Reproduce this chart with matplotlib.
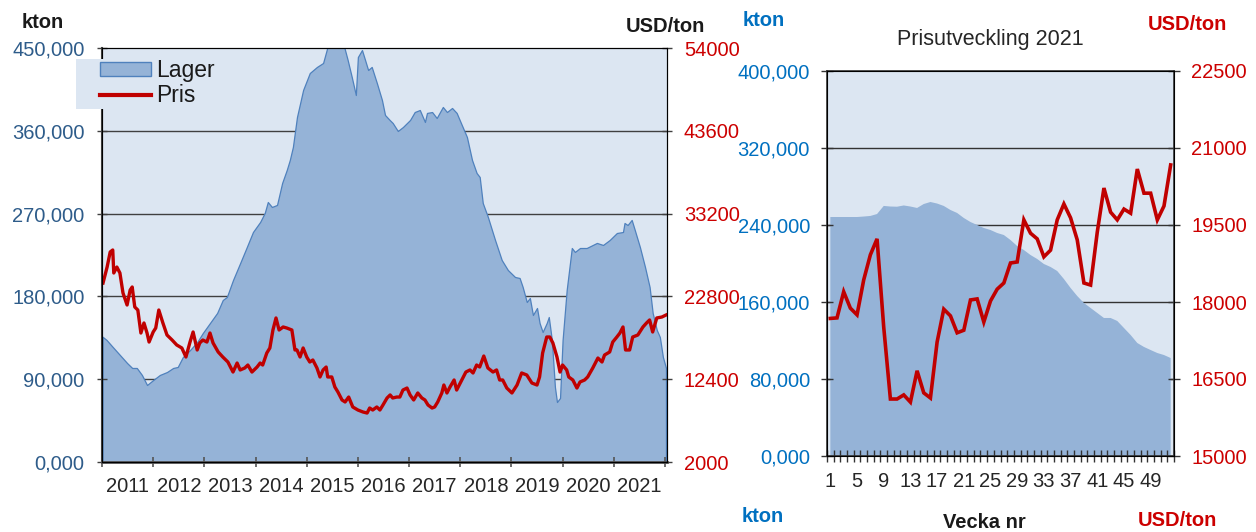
import matplotlib
matplotlib.use("Agg")
import matplotlib.pyplot as plt
from matplotlib.patches import Rectangle, Patch
from matplotlib.lines import Line2D

plt.rcParams['font.family'] = ['Liberation Sans', 'DejaVu Sans']

# ---- vänster diagram: lager och pris 2011-2021 (tid i decimalår)
lager_tid = [2011.01, 2011.09, 2011.21, 2011.35, 2011.49, 2011.59, 2011.68, 2011.78, 2011.88, 2012.00,
             2012.13, 2012.27, 2012.39, 2012.48, 2012.58, 2012.72, 2012.86, 2012.97, 2013.11, 2013.25,
             2013.36, 2013.44, 2013.56, 2013.70, 2013.83, 2013.95, 2014.09, 2014.18, 2014.24, 2014.32,
             2014.42, 2014.52, 2014.61, 2014.67, 2014.73, 2014.81, 2014.93, 2015.06, 2015.20, 2015.32,
             2015.39, 2015.45, 2015.57, 2015.70, 2015.80, 2015.88, 2015.96, 2016.00, 2016.08, 2016.14,
             2016.20, 2016.27, 2016.37, 2016.47, 2016.53, 2016.62, 2016.68, 2016.78, 2016.88, 2017.02,
             2017.11, 2017.21, 2017.31, 2017.35, 2017.45, 2017.54, 2017.66, 2017.74, 2017.84, 2017.93,
             2018.03, 2018.13, 2018.23, 2018.32, 2018.38, 2018.44, 2018.54, 2018.68, 2018.81, 2018.93,
             2019.07, 2019.16, 2019.22, 2019.30, 2019.36, 2019.42, 2019.50, 2019.55, 2019.61, 2019.69,
             2019.73, 2019.79, 2019.85, 2019.89, 2019.95, 2020.00, 2020.08, 2020.18, 2020.24, 2020.34,
             2020.47, 2020.67, 2020.79, 2020.92, 2021.06, 2021.18, 2021.21, 2021.27, 2021.35, 2021.41,
             2021.51, 2021.61, 2021.70, 2021.76, 2021.84, 2021.90, 2021.96, 2022.02]
lager = [136200, 132600, 125000, 116300, 107600, 102200, 102200, 94600, 83700, 89100,
         94600, 97800, 102200, 103300, 114100, 121700, 130400, 140200, 151100, 162000,
         176100, 179400, 197800, 216300, 233700, 250000, 260900, 270700, 282600, 277200,
         279400, 303300, 317400, 328300, 342400, 375000, 404400, 422800, 429400, 433700,
         447800, 462000, 468000, 458000, 437000, 418500, 398900, 440200, 447800, 437000,
         426100, 429400, 412000, 393500, 377200, 371800, 368500, 359800, 364100, 371800,
         380400, 382600, 369600, 379400, 380400, 373900, 385900, 380400, 384800, 379400,
         366300, 353300, 328300, 314100, 309800, 281500, 266300, 241300, 219600, 208700,
         201100, 200000, 190200, 173900, 178300, 159800, 167400, 151100, 141300, 151100,
         157600, 132600, 81500, 65200, 69600, 132600, 187000, 232600, 228300, 232600,
         232600, 238100, 235900, 241300, 248900, 250000, 259800, 257600, 263100, 252200,
         233700, 212000, 190200, 162000, 143500, 135900, 114100, 102200]

pris_tid = [2011.02, 2011.10, 2011.16, 2011.21, 2011.23, 2011.29, 2011.35, 2011.41, 2011.49, 2011.55,
            2011.59, 2011.64, 2011.70, 2011.76, 2011.82, 2011.88, 2011.92, 2012.00, 2012.05, 2012.11,
            2012.19, 2012.27, 2012.37, 2012.46, 2012.56, 2012.64, 2012.72, 2012.78, 2012.86, 2012.91,
            2012.97, 2013.05, 2013.11, 2013.17, 2013.27, 2013.36, 2013.46, 2013.56, 2013.64, 2013.70,
            2013.79, 2013.85, 2013.93, 2014.03, 2014.09, 2014.14, 2014.22, 2014.28, 2014.34, 2014.40,
            2014.46, 2014.54, 2014.61, 2014.71, 2014.77, 2014.81, 2014.87, 2014.93, 2015.00, 2015.06,
            2015.12, 2015.20, 2015.26, 2015.32, 2015.38, 2015.41, 2015.49, 2015.55, 2015.61, 2015.69,
            2015.75, 2015.82, 2015.90, 2016.00, 2016.10, 2016.18, 2016.23, 2016.29, 2016.37, 2016.43,
            2016.49, 2016.57, 2016.63, 2016.68, 2016.76, 2016.82, 2016.88, 2016.96, 2017.02, 2017.09,
            2017.17, 2017.25, 2017.31, 2017.37, 2017.45, 2017.50, 2017.56, 2017.64, 2017.68, 2017.74,
            2017.80, 2017.88, 2017.93, 2018.03, 2018.11, 2018.19, 2018.25, 2018.32, 2018.38, 2018.46,
            2018.54, 2018.64, 2018.71, 2018.77, 2018.83, 2018.91, 2019.01, 2019.11, 2019.20, 2019.30,
            2019.40, 2019.50, 2019.55, 2019.61, 2019.69, 2019.75, 2019.81, 2019.89, 2019.95, 2020.00,
            2020.08, 2020.12, 2020.20, 2020.28, 2020.34, 2020.43, 2020.49, 2020.59, 2020.69, 2020.77,
            2020.82, 2020.92, 2020.98, 2021.06, 2021.12, 2021.18, 2021.23, 2021.31, 2021.37, 2021.47,
            2021.57, 2021.64, 2021.70, 2021.76, 2021.84, 2021.94, 2022.02]
pris = [24480, 26490, 28380, 28630, 25740, 26490, 25740, 23230, 21720, 23600,
        23980, 21470, 21090, 18200, 19460, 18200, 17070, 18330, 18830, 21090,
        19460, 17950, 17320, 16700, 16320, 15190, 17070, 18330, 16070, 16950,
        17320, 17070, 18200, 16950, 15820, 15190, 14560, 13300, 14430, 13560,
        13810, 14180, 13300, 13930, 14430, 14180, 15690, 16320, 18580, 20090,
        18580, 18960, 18830, 18580, 16070, 16070, 15190, 16320, 15190, 14560,
        14810, 13810, 12680, 13560, 13930, 12680, 12680, 11420, 10790, 9790,
        9540, 10160, 8910, 8530, 8280, 8150, 8780, 8530, 8910, 8530,
        9160, 10040, 10420, 10040, 10160, 10160, 11040, 11290, 10420, 9790,
        10670, 10040, 9790, 9160, 8780, 8910, 9540, 10670, 11670, 10670,
        11420, 12300, 11040, 12300, 13300, 13560, 13180, 14180, 13930, 15310,
        13810, 13300, 13560, 12300, 12300, 11290, 10670, 11670, 13180, 12930,
        11920, 11670, 12680, 15690, 17700, 17700, 16950, 15190, 13300, 14180,
        13560, 12680, 12300, 11290, 12050, 12300, 12680, 13810, 15060, 14560,
        15440, 15820, 17070, 17700, 18200, 18960, 16070, 16070, 17700, 17950,
        18960, 19460, 19840, 18330, 20090, 20210, 20460]

ar = list(range(2011, 2022))
kton_steg = [0, 90000, 180000, 270000, 360000, 450000]
kton_text = ["0,000", "90,000", "180,000", "270,000", "360,000", "450,000"]
usd_steg = [2000, 12400, 22800, 33200, 43600, 54000]
usd_text = ["2000", "12400", "22800", "33200", "43600", "54000"]

# ---- höger diagram: veckovis 2021
veckor = list(range(1, 53))
lager_2021 = [248300, 248300, 248300, 248300, 248300, 248800, 249400, 251400, 259800, 259200,
              259000, 260300, 259200, 257700, 261800, 263900, 262300, 259800, 255600, 252500,
              247300, 243100, 240000, 236900, 234800, 231700, 229600, 224400, 218200, 214000,
              208800, 204700, 199500, 196400, 192200, 183900, 174600, 166200, 159000, 153800,
              148600, 143400, 143400, 140300, 133000, 125700, 117400, 113300, 110100, 107000,
              104900, 101800]
pris_2021 = [17680, 17690, 18200, 17880, 17750, 18430, 18920, 19230, 17510, 16110,
             16110, 16190, 16050, 16660, 16230, 16130, 17220, 17860, 17730, 17400,
             17450, 18040, 18060, 17610, 18020, 18250, 18370, 18760, 18780, 19600,
             19340, 19230, 18880, 19010, 19600, 19910, 19640, 19210, 18370, 18330,
             19360, 20220, 19750, 19600, 19810, 19730, 20590, 20120, 20120, 19600,
             19870, 20670]
vecka_text = [str(v) for v in range(1, 52, 4)]
kton2_steg = [0, 80000, 160000, 240000, 320000, 400000]
kton2_text = ["0,000", "80,000", "160,000", "240,000", "320,000", "400,000"]
usd2_steg = [15000, 16500, 18000, 19500, 21000, 22500]
usd2_text = ["15000", "16500", "18000", "19500", "21000", "22500"]

BG = '#DCE6F2'
FYLL = '#95B3D7'
KANT = '#4F81BD'
ROD = '#C00000'
ROD_TEXT = '#CC0000'
BLA_TEXT = '#2E5C8A'
BLA2_TEXT = '#0070C0'
FS = 14.5

W, H = 1256, 532


def px(x, y):
    return x / W, 1 - y / H


fig = plt.figure(figsize=(W / 100, H / 100), dpi=100)

# ---------------- vänster
ax = fig.add_axes([102 / W, 70 / H, 565 / W, 414 / H])
ax.set_facecolor(BG)
for v in kton_steg[1:-1]:
    ax.axhline(v, color='#404040', lw=1, zorder=0.5)
ax.fill_between(lager_tid, lager, 0, facecolor=FYLL, edgecolor=KANT, lw=0.9, zorder=1)
ax.set_xlim(2011.0, 2022.04)
ax.set_ylim(0, 450000)
ax.set_yticks(kton_steg)
ax.set_yticklabels(kton_text)
ax.set_xticks(ar + [2022])
ax.set_xticklabels([])
ax.set_xticks([a + 0.5 for a in ar], minor=True)
ax.set_xticklabels([str(a) for a in ar], minor=True)
ax.tick_params(axis='y', direction='inout', length=7.2, width=1, color='#404040',
               labelcolor=BLA_TEXT, labelsize=FS, pad=9)
ax.tick_params(axis='x', which='major', direction='inout', length=7.2, width=1.2, color='#555555')
ax.tick_params(axis='x', which='minor', length=0, labelsize=FS, labelcolor='#262626', pad=10.5)
ax.spines['left'].set_color('#404040')
ax.spines['left'].set_linewidth(1.5)
ax.spines['bottom'].set_color('#555555')
ax.spines['bottom'].set_linewidth(2)
ax.spines['top'].set_color('#1a1a1a')
ax.spines['right'].set_color('#1a1a1a')

ax2 = ax.twinx()
ax2.plot(pris_tid, pris, color=ROD, lw=2.4, solid_joinstyle='round')
ax2.set_ylim(2000, 54000)
ax2.set_yticks(usd_steg)
ax2.set_yticklabels(usd_text)
ax2.tick_params(axis='y', direction='inout', length=7.2, width=1, color='#404040',
                labelcolor=ROD_TEXT, labelsize=FS, pad=8.5)
ax2.set_xlim(2011.0, 2022.04)

fig.text(*px(43, 22), 'kton', fontsize=FS, fontweight='bold', color='#1a1a1a',
         ha='center', va='center')
fig.text(*px(665, 26), 'USD/ton', fontsize=FS, fontweight='bold', color='#1a1a1a',
         ha='center', va='center')

# legendruta ovanpå vänsterkanten
x0, y0 = px(76, 109)
fig.patches.append(Rectangle((x0, y0), 150 / W, 50 / H, transform=fig.transFigure,
                             facecolor=BG, edgecolor='none', zorder=3))
handles = [Patch(facecolor=FYLL, edgecolor=KANT, lw=1),
           Line2D([], [], color=ROD, lw=3)]
leg = fig.legend(handles, ['Lager', 'Pris'], loc='upper left', bbox_to_anchor=px(98, 57),
                 frameon=False, fontsize=16.5, handlelength=2.2, handleheight=0.55,
                 handletextpad=0.25, labelspacing=0.08, borderaxespad=0, borderpad=0.1)
leg.set_zorder(4)
for t in leg.get_texts():
    t.set_color('#1a1a1a')

# ---------------- höger
bx = fig.add_axes([827 / W, 76 / H, 347 / W, 385 / H])
bx.set_facecolor(BG)
for v in kton2_steg[1:-1]:
    bx.axhline(v, color='#333333', lw=1, zorder=0.5)
bx.fill_between(veckor, lager_2021, 0, facecolor=FYLL, edgecolor='none', zorder=1)
bx.set_xlim(0.5, 52.5)
bx.set_ylim(0, 400000)
bx.set_yticks(kton2_steg)
bx.set_yticklabels(kton2_text)
bx.set_xticks([v - 0.5 for v in veckor] + [52.5])
bx.set_xticklabels([])
bx.set_xticks(list(range(1, 52, 4)), minor=True)
bx.set_xticklabels(vecka_text, minor=True)
bx.tick_params(axis='y', direction='inout', length=8.6, width=1, color='#333333',
               labelcolor=BLA2_TEXT, labelsize=FS, pad=7.9)
bx.tick_params(axis='x', which='major', direction='inout', length=8, width=1, color='#333333')
bx.tick_params(axis='x', which='minor', length=0, labelsize=FS, labelcolor='#262626', pad=11.5)
for s in bx.spines.values():
    s.set_color('#333333')
    s.set_linewidth(1.2)

bx2 = bx.twinx()
bx2.plot(veckor, pris_2021, color=ROD, lw=2.6, solid_joinstyle='miter')
bx2.set_ylim(15000, 22500)
bx2.set_yticks(usd2_steg)
bx2.set_yticklabels(usd2_text)
bx2.tick_params(axis='y', direction='inout', length=8.6, width=1, color='#333333',
                labelcolor=ROD_TEXT, labelsize=FS, pad=8)
bx2.set_xlim(0.5, 52.5)

fig.text(*px(990, 40), 'Prisutveckling 2021', fontsize=15.5, color='#262626',
         ha='center', va='center')
fig.text(*px(764, 21), 'kton', fontsize=FS, fontweight='bold', color=BLA2_TEXT,
         ha='center', va='center')
fig.text(*px(1187, 24), 'USD/ton', fontsize=FS, fontweight='bold', color=ROD_TEXT,
         ha='center', va='center')
fig.text(*px(763, 517), 'kton', fontsize=FS, fontweight='bold', color=BLA2_TEXT,
         ha='center', va='center')
fig.text(*px(984, 522), 'Vecka nr', fontsize=FS, fontweight='bold', color='#1a1a1a',
         ha='center', va='center')
fig.text(*px(1177, 520), 'USD/ton', fontsize=FS, fontweight='bold', color=ROD_TEXT,
         ha='center', va='center')

fig.savefig('out.png', dpi=100, facecolor='white')
